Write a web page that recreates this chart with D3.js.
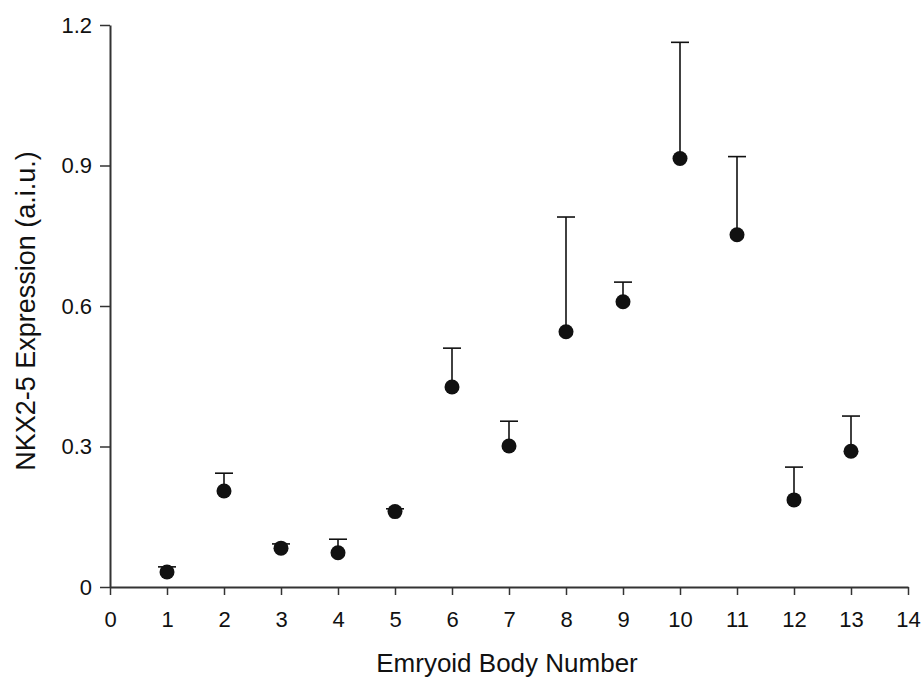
<!DOCTYPE html>
<meta charset="utf-8">
<script src="https://d3js.org/d3.v7.min.js"></script>
<style>
  body { margin: 0; background: #fff; }
  text { font-family: "Liberation Sans", Arial, sans-serif; }
</style>
<body>
<div id="chart"></div>
<script>
  // data
  var bodies = [1, 2, 3, 4, 5, 6, 7, 8, 9, 10, 11, 12, 13];
  var means  = [0.032, 0.205, 0.083, 0.073, 0.161, 0.427, 0.301, 0.545, 0.609, 0.915, 0.752, 0.186, 0.290];
  var upper  = [0.043, 0.243, 0.092, 0.102, 0.167, 0.510, 0.354, 0.790, 0.651, 1.163, 0.919, 0.256, 0.365];
  var xTicks = d3.range(0, 15);
  var yTicks = [0, 0.3, 0.6, 0.9, 1.2];
  var yLabels = ["0", "0.3", "0.6", "0.9", "1.2"];

  var W = 921, H = 681;
  var margin = { top: 25, right: 13, bottom: 94, left: 110 },
    width = W - margin.left - margin.right,
    height = H - margin.top - margin.bottom;

  var svg = d3.select("#chart").append("svg")
    .attr("width", W).attr("height", H);
  var g = svg.append("g")
    .attr("transform", "translate(" + margin.left + "," + margin.top + ")");

  var x = d3.scaleLinear().domain([0, 14]).range([0, width]);
  var y = d3.scaleLinear().domain([0, 1.2]).range([height, 0]);

  // x axis
  var xAxis = g.append("g")
    .attr("transform", "translate(0," + height + ")")
    .call(d3.axisBottom(x).tickValues(xTicks).tickSize(8).tickSizeOuter(0).tickPadding(16));
  // y axis
  var yAxis = g.append("g")
    .call(d3.axisLeft(y).tickValues(yTicks).tickFormat(function (d, i) { return yLabels[i]; })
      .tickSize(10).tickSizeOuter(0).tickPadding(8));

  [xAxis, yAxis].forEach(function (a) {
    a.select(".domain").attr("stroke", "#333").attr("stroke-width", 2);
    a.selectAll(".tick line").attr("stroke", "#333").attr("stroke-width", 1.5);
    a.selectAll("text").attr("font-size", 22).attr("fill", "#111")
      .attr("font-family", "Liberation Sans, Arial, sans-serif");
  });

  var pts = bodies.map(function (b, i) { return { b: b, m: means[i], u: upper[i] }; });

  // error bars (upper only)
  var eb = g.selectAll(".eb").data(pts).enter().append("g").attr("class", "eb")
    .attr("stroke", "#111").attr("stroke-width", 1.6);
  eb.append("line")
    .attr("x1", function (d) { return x(d.b); })
    .attr("x2", function (d) { return x(d.b); })
    .attr("y1", function (d) { return y(d.m); })
    .attr("y2", function (d) { return y(d.u); });
  eb.append("line")
    .attr("x1", function (d) { return x(d.b) - 9; })
    .attr("x2", function (d) { return x(d.b) + 9; })
    .attr("y1", function (d) { return y(d.u); })
    .attr("y2", function (d) { return y(d.u); });

  // points
  g.selectAll(".dot").data(pts).enter().append("circle")
    .attr("cx", function (d) { return x(d.b); })
    .attr("cy", function (d) { return y(d.m); })
    .attr("r", 7.5)
    .attr("fill", "#111");

  // axis titles
  svg.append("text")
    .attr("x", 507).attr("y", 672)
    .attr("text-anchor", "middle").attr("font-size", 26).attr("fill", "#111")
    .text("Emryoid Body Number");
  svg.append("text")
    .attr("transform", "translate(35,311) rotate(-90)")
    .attr("text-anchor", "middle").attr("font-size", 27).attr("fill", "#111")
    .text("NKX2-5 Expression (a.i.u.)");
</script>
</body>
